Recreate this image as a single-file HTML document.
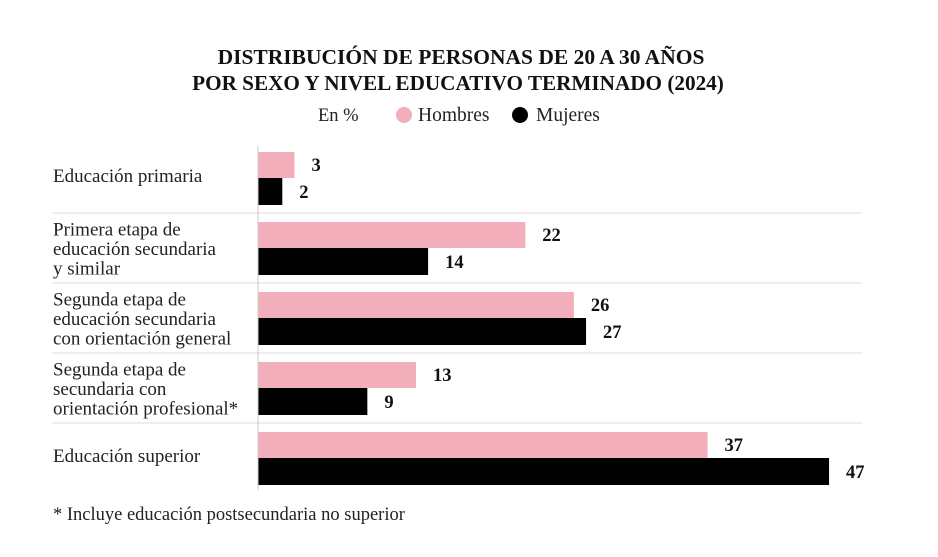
<!DOCTYPE html>
<html><head><meta charset="utf-8"><style>
body{margin:0;background:#fff;width:938px;height:552px;overflow:hidden;font-family:"Liberation Serif",serif;}
</style></head><body>
<svg width="938" height="552">
<text x="461" y="64" text-anchor="middle" font-size="21.5" font-weight="bold" fill="#111">DISTRIBUCIÓN DE PERSONAS DE 20 A 30 AÑOS</text>
<text x="458" y="90" text-anchor="middle" font-size="21.2" font-weight="bold" fill="#111">POR SEXO Y NIVEL EDUCATIVO TERMINADO (2024)</text>
<text x="318" y="121" font-size="18.5" fill="#222">En %</text>
<circle cx="404" cy="115" r="8" fill="#f2aebb"/>
<text x="418" y="121" font-size="19.5" fill="#222">Hombres</text>
<circle cx="520" cy="115" r="8" fill="#000"/>
<text x="536" y="121" font-size="19.5" fill="#222">Mujeres</text>
<g id="plot"></g>
<text x="53" y="520" font-size="18.5" fill="#222">* Incluye educación postsecundaria no superior</text>
</svg>
<script>
const categories=[["Educación primaria"],["Primera etapa de","educación secundaria","y similar"],["Segunda etapa de","educación secundaria","con orientación general"],["Segunda etapa de","secundaria con","orientación profesional*"],["Educación superior"]];
const hombres=[3,22,26,13,37];
const mujeres=[2,14,27,9,47];
const NS="http://www.w3.org/2000/svg";
const g=document.getElementById('plot');
const x0=258, k=12.15, top0=152, pitch=70;
const xs=v=>x0+v*k;
function mk(t,a){const e=document.createElementNS(NS,t);for(const n in a)e.setAttribute(n,a[n]);g.appendChild(e);return e;}
categories.forEach((lines,i)=>{
  const t=top0+pitch*i;
  if(i<categories.length-1){
    const d=mk('line',{x1:52,x2:862,y1:t+61,y2:t+61,stroke:'#ddd','stroke-width':1});
    
    
  }
  const cy=t+26, lh=19.5, y1=cy-(lines.length-1)*lh/2+(lines.length>1?7:4);
  lines.forEach((s,j)=>{
    const tx=mk('text',{x:53,y:y1+j*lh,'font-size':19,fill:'#222'});
    tx.textContent=s;
    
    
  });
  const b1=mk('rect',{x:x0,y:t,width:xs(hombres[i])-x0,height:26,fill:'#f2aebb'});
  
  
  const b2=mk('rect',{x:x0,y:t+26,width:xs(mujeres[i])-x0,height:27,fill:'#000'});
  
  
  const v1=mk('text',{x:xs(hombres[i])+17,y:t+19,'font-size':18.5,'font-weight':'bold',fill:'#111'});
  v1.textContent=hombres[i];
  
  
  const v2=mk('text',{x:xs(mujeres[i])+17,y:t+46,'font-size':18.5,'font-weight':'bold',fill:'#111'});
  v2.textContent=mujeres[i];
  
  
});
const ax=mk('line',{x1:x0,x2:x0,y1:146,y2:490,stroke:'#ccc','stroke-width':1});


</script>
</body></html>
